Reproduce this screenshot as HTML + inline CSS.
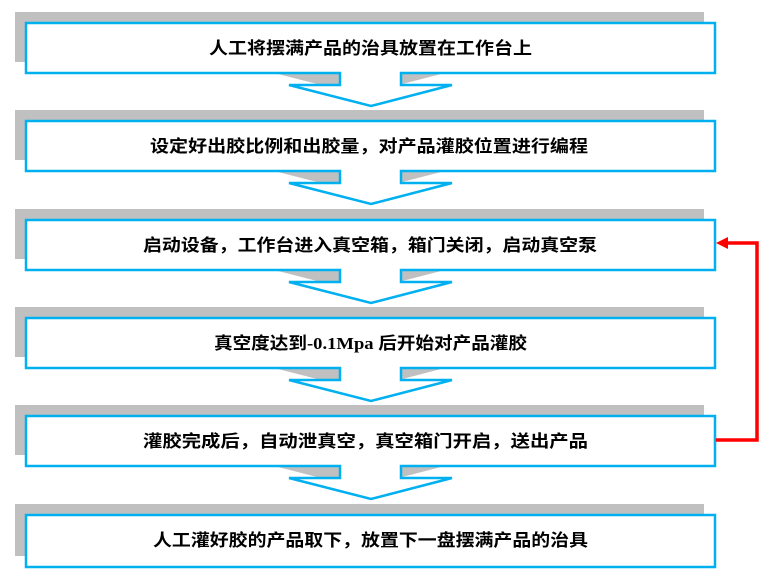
<!DOCTYPE html>
<html><head><meta charset="utf-8"><style>
html,body{margin:0;padding:0;background:#fff;width:773px;height:587px;overflow:hidden}
svg text{font-family:"Liberation Serif","Noto Sans CJK SC",serif;font-weight:bold;font-size:17px;fill:#000}
</style></head><body>
<svg width="773" height="587" viewBox="0 0 773 587" xmlns="http://www.w3.org/2000/svg">
<defs>
<path id="a" d="M26,0 H715 V50 H401 V62 H452 L371,83 L289,62 H340 V50 H26 Z"/>
<path id="b" d="M26,0 H715 V52 H26 Z"/>
</defs>
<g fill="#c0c0c0">
<use href="#a" x="-11" y="12"/>
<use href="#a" x="-11" y="110"/>
<use href="#a" x="-11" y="209"/>
<use href="#a" x="-11" y="307"/>
<use href="#a" x="-11" y="405"/>
<use href="#b" x="-11" y="504"/>
</g>
<g fill="#fff" stroke="#00b0f0" stroke-width="2.5">
<use href="#a" x="0" y="23"/>
<use href="#a" x="0" y="121"/>
<use href="#a" x="0" y="220"/>
<use href="#a" x="0" y="318"/>
<use href="#a" x="0" y="416"/>
<use href="#b" x="0" y="515"/>
</g>
<text x="209" y="54" textLength="323" lengthAdjust="spacingAndGlyphs">人工将摆满产品的治具放置在工作台上</text>
<text x="150" y="152" textLength="438" lengthAdjust="spacingAndGlyphs">设定好出胶比例和出胶量，对产品灌胶位置进行编程</text>
<text x="143" y="251" textLength="454" lengthAdjust="spacingAndGlyphs">启动设备，工作台进入真空箱，箱门关闭，启动真空泵</text>
<text x="214" y="349" textLength="313" lengthAdjust="spacingAndGlyphs">真空度达到-0.1Mpa 后开始对产品灌胶</text>
<text x="143" y="447" textLength="445" lengthAdjust="spacingAndGlyphs">灌胶完成后，自动泄真空，真空箱门开启，送出产品</text>
<text x="153" y="546" textLength="435" lengthAdjust="spacingAndGlyphs">人工灌好胶的产品取下，放置下一盘摆满产品的治具</text>
<polyline points="716,440 757,440 757,243 726,243" fill="none" stroke="#ff0000" stroke-width="3.5"/>
<polygon points="716,243 728,237 728,249" fill="#ff0000"/>
</svg>
</body></html>
